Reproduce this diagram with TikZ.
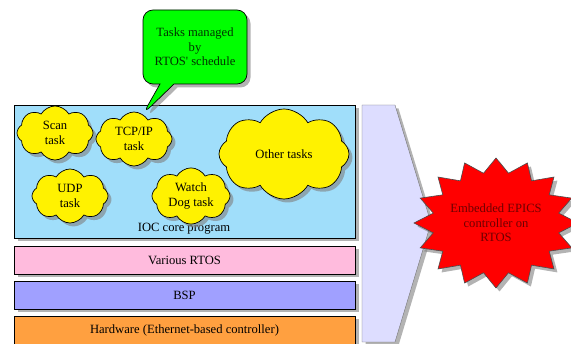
\documentclass[tikz,border=0pt]{standalone}
\usepackage{fontspec}
\setmainfont{Liberation Serif}
\usetikzlibrary{shapes.symbols,shapes.callouts,shadows}
\definecolor{iocblue}{RGB}{160,222,250}
\definecolor{rtospink}{RGB}{255,187,221}
\definecolor{bspblue}{RGB}{160,160,255}
\definecolor{hworange}{RGB}{255,160,64}
\definecolor{arrowlav}{RGB}{221,221,255}
\definecolor{notegreen}{RGB}{0,255,0}
\definecolor{notetext}{RGB}{0,50,0}
\definecolor{startext}{RGB}{110,0,0}
\tikzset{
	shade/.style={drop shadow={shadow xshift=3.5pt,shadow yshift=-3.5pt,opacity=.6}},
	layer/.style={draw,line width=.8pt,shade,minimum width=341pt,inner sep=0pt},
	task/.style={cloud,cloud puffs=8,cloud puff arc=120,aspect=1.4,draw,
		line width=.7pt,fill=yellow,shade,align=center,inner sep=0pt},
}

\begin{document}
\begin{tikzpicture}[x=1pt,y=-1pt,font=\fontsize{12.6}{14.5}\selectfont]
	\useasboundingbox (0,0) rectangle (571,344);
	%protocol stack, from the IOC down to the hardware
	\node[layer,fill=iocblue,minimum height=133pt] (ioc) at (184.5,171.5) {};
	\node (ioclbl) at (184,229) {IOC core program};
	\node[layer,fill=rtospink,minimum height=28pt] (rtos) at (184.5,260) {Various RTOS};
	\node[layer,fill=bspblue,minimum height=28pt] (bsp) at (184.5,295) {BSP};
	\node[layer,fill=hworange,minimum height=28pt] (hw) at (184.5,330) {Hardware (Ethernet-based controller)};
	
	%tasks inside the IOC
	\node[task,minimum width=76pt,minimum height=54pt] (scan) at (55,133) {Scan\\task};
	\node[task,minimum width=76pt,minimum height=54pt] (tcp) at (134,139) {TCP/IP\\task};
	\node[task,minimum width=130pt,minimum height=90pt] (other) at (284,154) {Other tasks};
	\node[task,minimum width=76pt,minimum height=54pt] (udp) at (70,196) {UDP\\task};
	\node[task,minimum width=78pt,minimum height=54pt] (dog) at (191,196) {Watch\\Dog task};
	
	%big arrow and the result
	\draw[fill=arrowlav,draw=black!55,shade] (362,105) -- (395,105) -- (431,223)
		-- (395,342) -- (362,342) -- cycle;
	\draw[fill=red,draw=black!70,line width=.6pt,shade] (578,223)
		\foreach \i [evaluate=\i as \r using {mod(\i,2)==0 ? 1 : 0.78}] in {1,...,31}
		{ -- ({496+82*\r*cos(\i*11.25)},{223+65*\r*sin(\i*11.25)}) } -- cycle;
	\node[text=startext,align=center] (epics) at (496,223) {Embedded EPICS\\controller on\\RTOS};
	
	%callout
	\coordinate (tip) at (143,114);
	\node[rectangle callout,rounded corners=10pt,draw,line width=.7pt,fill=notegreen,shade,
		minimum width=104pt,minimum height=74pt,align=center,text=notetext,
		callout absolute pointer={(tip)},callout pointer width=14pt] (note) at (195,47)
		{Tasks managed\\by\\RTOS\textquotesingle{} schedule};
\end{tikzpicture}
\end{document}
